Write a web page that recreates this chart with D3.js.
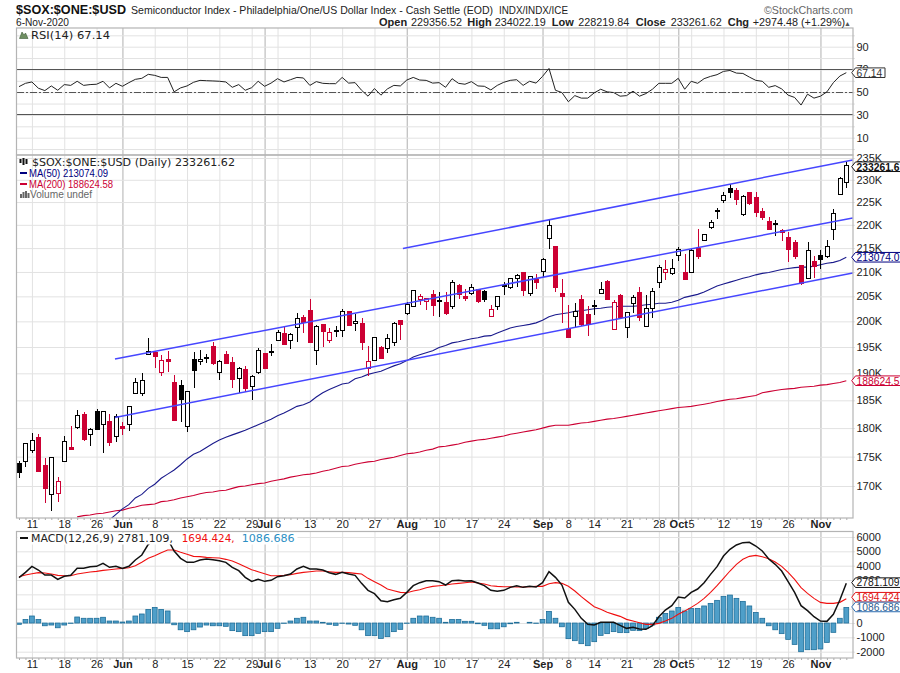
<!DOCTYPE html>
<html><head><meta charset="utf-8">
<script src="https://cdn.jsdelivr.net/npm/d3@7"></script>
<style>
html,body{margin:0;padding:0;background:#fff;overflow:hidden}
text{font-family:"Liberation Sans",Arial,sans-serif;fill:#222}
.leg{font-family:"DejaVu Sans",sans-serif;font-size:9.6px}
.ax text{font-size:11px;fill:#222}
</style></head><body><svg id="c" width="900" height="673"></svg>
<script>
// ---- data (index prices in thousands, one entry per trading day, 7 May - 6 Nov 2020)
const opens=[173.9,174.1,176.1,178.4,173.5,168.6,168.7,174.1,176.6,180.1,
182.5,178.8,183,180.6,181.2,178.5,180.3,180.6,186.3,186.3,
193.6,194,190.1,192.6,188.3,187.7,180.3,192.7,192.2,192.8,
195.1,190.1,193.5,192,189,190.8,187.6,190.1,193.7,194,
196.3,197.7,196.3,198.8,200.7,202.1,194.4,199.3,196.3,198.1,
198.2,202,199.5,199.5,191,192.5,195,194.8,195.8,200.2,
201.5,203,204.3,203.9,205.3,204,203.7,203,207.2,205,
205.5,206.3,206,201,203,207,206.9,208.6,209.9,205.5,
208.4,210,217,215.3,205.5,198.4,200.9,204.3,201.4,202.9,
205.5,208.1,198.4,205.2,198.8,203.5,205.8,199,202.5,207.9,
209.8,209.6,213.4,209.8,209.8,215,216.7,219.4,223,225.4,
228,227.5,222.3,227.1,226,223,220.8,220.1,218.8,217.2,
216.2,211.3,208.7,212.2,213.4,213.2,219,226.7,229.36];
const highs=[174.3,177.3,179.2,178.9,174.8,175,171.5,178.6,180.3,183.3,
182.8,180.1,183.5,183,182.6,182.6,181,184,189.1,190.1,
196.7,194.2,193.4,194.3,189.6,188.8,186.8,194,194.5,193.7,
196,192.6,194.2,193.1,191.1,191.3,189.6,194.8,193.9,195.6,
198.4,198.8,197.7,201.7,201.2,204.4,199.2,199.4,198.6,199,
202.4,202,201.4,200.7,195.2,197,195.2,197.5,199.8,200.2,
203.8,206.2,205.5,204.6,206.3,205.9,205.9,208.4,207.6,206.5,
207.6,206.5,206.3,203.3,205,207.9,208.6,209.6,209.9,209.1,
209.6,213,221,215.4,208.6,203.2,203.6,205.3,203,204.2,
207.9,208.3,204.2,205.4,201.9,205.2,206.8,205.2,206.7,211.5,
212.5,212.8,215.2,213.8,214.8,219,218.1,221,223.6,227.2,
229,228.1,226.6,227.3,227.3,223.6,221.7,221.1,219,218.4,
216.7,211.5,216.4,213.4,214.7,216.8,223.4,230.6,234.02];
const lows=[171.4,173.3,175.6,172.3,167.2,165.9,167.4,174,176.2,179.8,
177.7,176.9,179.7,175.7,176.8,177.6,178.7,179.5,186.3,185.8,
193.5,191,189.5,190.3,181.3,181.1,179.3,187.3,191.5,191.9,
191.6,188.7,191.9,187.3,186.3,186.5,185.1,189.9,190.8,193.2,
196.3,195.3,194.7,195.9,197.8,195.8,191.6,195,195.7,197,
197,199.1,198.1,194.4,189.5,192.4,192.8,193.9,195.1,196.4,
201.2,202.9,203.2,202.2,201,200.9,201.2,202.5,204.5,204,
205.3,203.7,203.8,200.9,202.3,205.3,206.5,206.8,205.1,205.1,
206.5,209,214.8,205.9,199.7,196.7,198.9,199.1,197.2,201.3,
205.4,204.4,198.3,200.6,196.8,201.6,200,199,200.7,206.7,
208.3,209.4,212.3,208.3,209.7,212.8,216.6,219,221.2,224.8,
225.8,224.3,222,224.3,221.7,221.1,218.8,217.6,216.6,212,
212.8,207.4,208.5,208.8,210.6,212.9,216.7,226.7,228.22];
const closes=[172.3,177.2,177.8,172.4,169.5,174.8,170.7,177.6,176.3,182.3,
177.9,179.8,179.8,183,177.4,182,180,183.9,188.3,188.7,
194.2,193.2,192.5,192.3,181.3,185.1,186.6,190.5,192.7,193,
191.9,192.3,191.9,188.8,190.9,187.1,189.4,194.4,191,194.1,
197.8,195.5,197.5,200.5,199.7,195.9,199,198,197.9,198.2,
201.9,199.1,199.9,195.9,192.3,196.9,192.8,196.7,199.6,199.3,
203.4,206.1,204.9,204.5,203.2,204.2,201.5,207.9,205.3,204.6,
206.7,204,204.3,202.3,204.9,207.3,208.6,209.2,206.2,209,
207.9,212.6,219.9,206.9,204.9,196.8,202,199.4,199.3,203.1,
206.3,204.4,203.8,200.7,201.7,204.7,200.7,202.5,206,210.9,
210.5,210.7,214.6,208.4,214.5,213.3,217.9,220.5,223.2,226.5,
227.1,225.6,226.3,224.6,222.6,221.7,219,220.3,218.4,214.6,
213.3,207.6,214.4,211.2,212.6,215.3,222.5,230.2,233.26];
const ma50=Array(14).fill(null).concat([164.4,165.3,166.2,166.9,168,168.6,169.6,170.3,171.3,172,172.7,173.6,174.6,175.4,175.9,176.6,177.3,177.9,178.4,178.8,179.2,179.6,180.1,180.6,181.1,181.6,182.2,182.7,183.3,183.9,
184.2,184.7,185.6,186.4,187,187.5,188,188.2,189,189.3,189.8,190.1,190.4,190.9,191.4,191.8,192.4,193.1,193.5,193.9,
194.3,194.9,195.3,195.8,196,196.3,196.6,196.8,197.1,197.2,197.7,198.2,198.7,199,199.2,199.4,199.7,200.2,200.9,201.3,201.5,201.7,202,202.1,202.3,202.5,202.6,202.8,202.9,203,203,203,203.1,
203.3,203.4,203.6,203.6,203.8,204.2,204.8,205.1,205.4,205.9,206.5,207.1,207.5,207.9,208.3,208.7,209,209.4,209.7,209.9,210.2,210.5,210.7,210.9,211,211,211.2,211.5,211.8,212,212.4,213.07]);
const ma200=Array(9).fill(null).concat([164.9,165.1,165.2,165.4,165.5,165.7,165.9,166,166.3,166.5,166.8,166.9,167,167.4,167.5,167.7,168,168.2,168.4,168.7,168.9,169,169.2,169.3,169.6,169.9,170,170.2,170.4,170.5,170.8,171,171.2,
171.5,171.7,171.9,172,172.2,172.5,172.7,173,173.3,173.4,173.7,173.9,174.1,174.2,174.5,174.7,174.9,175.2,175.5,175.6,175.8,176.1,176.3,176.7,176.8,177,177.2,177.5,177.7,177.9,178,178.2,178.4,178.6,178.9,179.1,179.3,179.5,179.7,180,180.3,180.5,180.5,
180.5,180.7,180.9,181,181.2,181.4,181.6,181.7,181.9,182.1,182.3,182.5,182.7,182.9,183.1,183.3,183.5,183.7,183.8,183.9,184.1,184.3,184.5,184.8,185,185.2,185.3,185.5,185.7,185.9,186.4,186.6,186.8,187,187.1,187.2,187.4,187.5,187.6,187.8,187.9,188.1,188.3,188.62]);
const rsi=[54.9,57.8,59,53.5,51.4,55.5,51.7,56.7,56,59.6,56,56.7,57,59.6,53.8,57.8,55.2,58.4,61.3,62.2,65.7,64.8,63,63,50.3,53.8,55.5,58.7,60.4,60.1,59.9,59.6,59,54.3,56.7,51.7,54,59.6,55.2,58,61.9,59,61,63,62.5,56,59.3,57.8,57.5,57.5,63,58,58.4,51.7,46.5,53.2,47.4,52.9,56,55.5,60.7,63,60.7,60.4,58,58.4,54.3,
61.9,57.8,57,59.3,55.5,55.2,52,56,58.7,60.4,61,56,59.6,58,63.9,70.9,51.7,49.7,41.6,47,44.8,44.8,49.4,52.6,50.3,49.7,46.5,47,50.9,46.5,48.8,52.6,57.8,57.8,57.8,62.2,52.6,59.6,57.8,61.9,63.9,65.4,68.3,69.1,66.8,66.5,63.3,60.4,59.6,54.3,55.8,52.9,47.4,45.4,38.7,48.3,44.8,46.5,50.3,58.4,64.2,67.14];
const macd=[3163,3535,3954,3698,3349,3349,3047,3256,3326,3814,3814,3930,3954,4163,3884,3954,3814,3954,4395,4744,5488,5767,5790,5860,5023,4512,4233,4233,4395,4465,4419,4349,4233,3884,3651,3186,2907,3047,2907,2977,3233,3302,3419,3767,3954,3767,3767,3698,3512,3395,3535,3419,3326,2767,2279,2047,1558,1488,1628,1721,2140,2605,2814,2953,2953,2884,2651,
2953,2977,2930,2953,2791,2605,2279,2209,2279,2488,2605,2488,2558,2512,2814,3581,3186,2651,1442,953,325,-93,-140,47,47,47,-163,-372,-302,-419,-442,-186,442,907,1209,1814,1744,2140,2372,2814,3395,3930,4674,5140,5442,5605,5628,5372,5023,4465,4093,3628,2884,2140,1209,860,442,140,116,605,1605,2781.109];
const signal=[3233,3349,3442,3512,3488,3419,3326,3302,3302,3419,3488,3558,3605,3674,3721,3767,3814,3860,4000,4233,4512,4698,4907,5093,5093,4930,4791,4651,4628,4581,4558,4535,4442,4326,4140,3930,3721,3581,3442,3302,3302,3326,3372,3465,3535,3581,3628,3628,3581,3535,3535,3512,3465,3419,3116,2884,2651,2372,2256,2140,2116,2233,2326,2465,2558,2605,2651,
2721,2767,2814,2860,2791,2721,2605,2558,2535,2535,2512,2512,2535,2558,2558,2744,2814,2767,2558,2233,1837,1488,1140,953,744,605,465,256,140,23,-93,-93,-23,140,325,605,837,1093,1372,1721,2140,2605,3116,3628,4093,4442,4651,4721,4628,4488,4256,3954,3535,3047,2465,2070,1721,1442,1372,1372,1442,1694.424];
const hist=[-90,250,490,250,-190,-140,-330,-140,-20,420,330,330,330,400,140,140,70,140,490,630,950,1090,950,840,-120,-470,-600,-470,-280,-140,-190,-190,-230,-530,-600,-880,-880,-720,-600,-600,-370,-20,140,330,400,140,140,50,-90,-160,-20,-70,-160,-470,-880,-880,-1070,-950,-600,-440,-20,330,490,490,400,330,50,
250,250,120,120,-50,-160,-400,-400,-260,-50,50,0,50,-20,250,810,330,-260,-1090,-1230,-1440,-1580,-1300,-860,-740,-600,-670,-670,-510,-530,-370,-140,400,670,840,1090,840,1020,1020,1190,1370,1580,1860,1950,1720,1510,1190,740,330,-190,-470,-740,-1140,-1490,-2000,-1860,-1860,-1810,-1350,-650,330,1086.686];
const tickIndex=[2,7,12,16,21,26,31,36,38,40,45,50,55,60,65,70,75,81,85,89,94,99,102,104,109,114,119,124];
const tickLabels=["11","18","26","Jun","8","15","22","29","Jul","6","13","20","27","Aug","10","17","24","Sep","8","14","21","28","Oct","5","12","19","26","Nov"];
const priceTicks=[170,175,180,185,190,195,200,205,210,215,220,225,230,235];
const rsiGrid=[0,10,20,30,40,50,60,70,80,90,100];
const rsiLabels=[10,30,50,70,90];
const macdTicks=[-2000,-1000,0,1000,2000,3000,4000,5000,6000];
const macdLabels=[-2000,-1000,0,3000,4000,5000,6000];
// trend channel: [start day, end day, start price, end price]
const trendStart=[14.85,59.4,14.85];
const trendEnd=[129,129,129];
const trendStartPrice=[192.7,214.9,181.9];
const trendEndPrice=[221.5,234.55,209.8];

[opens,highs,lows,closes,ma50,ma200,rsi,macd,signal,hist].forEach((a,k)=>{if(a.length!==129)throw new Error("len "+k+" "+a.length)});

// ---- layout
const L=16.5,R=853,W=R-L;
const rsiP={t:28,b:155},mainP={t:155,b:518},macdP={t:531.5,b:658};
const x=d3.scaleLinear().domain([0,128]).range([19,846.3]);
const yR=d3.scaleLinear().domain([10,90]).range([137.7,46.7]);
const yP=d3.scaleLog().domain([170,235]).range([486,158]);
const yM=d3.scaleLinear().domain([-2000,6000]).range([651.7,537]);
const days=d3.range(129);
const svg=d3.select("#c");
svg.append("rect").attr("width",900).attr("height",673).attr("fill","#fff");
const defs=svg.append("defs");
[["cR",rsiP],["cP",mainP],["cM",macdP]].forEach(([id,p])=>defs.append("clipPath").attr("id",id).append("rect").attr("x",L).attr("y",p.t).attr("width",W).attr("height",p.b-p.t));
const GRID="#e2e2e2",MONTH="#c2c2c2",FRAME="#b4b4b4";

function xGrid(p,pad){
  const g=svg.append("g").attr("class","ax").attr("transform",`translate(0,${p.b})`);
  g.call(d3.axisBottom(x).tickValues(tickIndex).tickSize(-(p.b-p.t)).tickPadding(pad).tickFormat((d,i)=>tickLabels[i]));
  g.select(".domain").remove();
  g.selectAll(".tick line").attr("stroke",d=>/[A-Z]/.test(tickLabels[tickIndex.indexOf(d)])?MONTH:GRID).attr("stroke-width",d=>/[A-Z]/.test(tickLabels[tickIndex.indexOf(d)])?1.3:1);
  g.selectAll(".tick text").attr("font-weight",(d)=>/[A-Z]/.test(tickLabels[tickIndex.indexOf(d)])?"bold":"normal");
  if(p.t>100){
    const m=svg.append("g").attr("transform",`translate(0,${p.b})`);
    m.call(d3.axisBottom(x).tickValues(days).tickSize(2).tickFormat(""));
    m.select(".domain").remove();m.selectAll(".tick line").attr("stroke","#aaa");
  }
  return g;
}
function yGrid(scale,vals,p,fmt,labelled){
  const g=svg.append("g").attr("class","ax").attr("transform",`translate(${R},0)`);
  g.call(d3.axisRight(scale).tickValues(vals).tickSize(0).tickPadding(3.5).tickFormat(fmt));
  g.select(".domain").remove();
  g.selectAll(".tick line").attr("x1",-(W)).attr("x2",2).attr("stroke",GRID);
  if(labelled)g.selectAll(".tick").filter(d=>!labelled.includes(d)).select("text").remove();
}
// ---- RSI pane
xGrid(rsiP,0).selectAll("text").remove();
yGrid(yR,rsiGrid,rsiP,d=>d,rsiLabels);
const rp=svg.append("g").attr("clip-path","url(#cR)");
[70,30].forEach(v=>rp.append("line").attr("x1",L).attr("x2",R).attr("y1",yR(v)).attr("y2",yR(v)).attr("stroke","#555").attr("stroke-width",1).attr("shape-rendering","crispEdges"));
rp.append("line").attr("x1",L).attr("x2",R).attr("y1",yR(50)).attr("y2",yR(50)).attr("stroke","#555").attr("stroke-dasharray","7 2 2 2").attr("shape-rendering","crispEdges");
rp.append("path").attr("d",d3.line().x((d,i)=>x(i)).y(d=>yR(d))(rsi)).attr("fill","none").attr("stroke","#222").attr("stroke-width",1);

// ---- price pane
xGrid(mainP,2);
yGrid(yP,priceTicks,mainP,d=>d+"K");
const pp=svg.append("g").attr("clip-path","url(#cP)");
const lineP=d3.line().defined(d=>d!=null).x((d,i)=>x(i)).y(d=>yP(d));
pp.append("path").attr("d",lineP(ma200)).attr("fill","none").attr("stroke","#cc0033").attr("stroke-width",1.1);
pp.append("path").attr("d",lineP(ma50)).attr("fill","none").attr("stroke","#1a1a8c").attr("stroke-width",1.1);
const cg=pp.append("g").attr("shape-rendering","crispEdges");
days.forEach(i=>{
  const up=closes[i]>opens[i];
  const col=(i>0&&closes[i]<closes[i-1])?"#cc0033":"#000";
  const xc=Math.round(x(i))+.5;
  cg.append("line").attr("x1",xc).attr("x2",xc).attr("y1",yP(highs[i])).attr("y2",yP(lows[i])).attr("stroke",col);
  const t=yP(Math.max(opens[i],closes[i])),b=yP(Math.min(opens[i],closes[i]));
  cg.append("rect").attr("x",xc-2).attr("width",4).attr("y",t).attr("height",Math.max(b-t,1))
    .attr("fill",up&&b-t>1.5?"#fff":col).attr("stroke",col).attr("stroke-width",1);
});
trendStart.forEach((s,k)=>{
  pp.append("line").attr("x1",x(s)).attr("x2",x(trendEnd[k])).attr("y1",yP(trendStartPrice[k])).attr("y2",yP(trendEndPrice[k])).attr("stroke","#4646ff").attr("stroke-width",1.5);
});

// ---- MACD pane
xGrid(macdP,2);
yGrid(yM,macdTicks,macdP,d=>d,macdLabels);
const mp=svg.append("g").attr("clip-path","url(#cM)");
mp.selectAll("rect").data(hist).join("rect")
  .attr("x",(d,i)=>x(i)-2.4).attr("width",4.8)
  .attr("y",d=>Math.min(yM(d),yM(0))).attr("height",d=>Math.abs(yM(d)-yM(0)))
  .attr("fill","#4f9fc9").attr("stroke","#1e6e99").attr("stroke-width",.8);
const lineM=d3.line().x((d,i)=>x(i)).y(d=>yM(d));
mp.append("path").attr("d",lineM(signal)).attr("fill","none").attr("stroke","#f01010").attr("stroke-width",1.1);
mp.append("path").attr("d",lineM(macd)).attr("fill","none").attr("stroke","#111").attr("stroke-width",1.5);
svg.append("rect").attr("x",L+1).attr("y",macdP.t+1).attr("width",280).attr("height",12).attr("fill","#fff");

// ---- frames
[rsiP,mainP,macdP].forEach(p=>svg.append("rect").attr("x",L).attr("y",p.t).attr("width",W).attr("height",p.b-p.t).attr("fill","none").attr("stroke",FRAME).attr("stroke-width",1.2));

// ---- header
function T(x0,y0,s,o={}){
  const e=svg.append("text").attr("x",x0).attr("y",y0).text(s).attr("font-size",o.size||11).attr("font-weight",o.w||"normal").style("fill",o.fill||"#222");
  if(o.cls)e.attr("class",o.cls);
  if(o.len)e.attr("textLength",o.len).attr("lengthAdjust","spacingAndGlyphs");
  return e;
}
T(16,14,"$SOX:$ONE:$USD",{size:13,w:"bold",fill:"#111",len:110});
T(131,13.5,"Semiconductor Index - Philadelphia/One/US Dollar Index - Cash Settle (EOD)",{size:11.2,len:362});
T(499,13.5,"INDX/INDX/ICE",{size:10.5,len:69});
T(764,13.5,"©StockCharts.com",{size:11.8,fill:"#666",len:89});
T(16,26,"6-Nov-2020",{size:11,len:53});
[[379,"Open",411,"229356.52"],[467.3,"High",494.7,"234022.19"],[551.7,"Low",578.3,"228219.84"],[635.7,"Close",670.7,"233261.62"],[727.7,"Chg",752.7,"+2974.48 (+1.29%)"]].forEach(r=>{
  T(r[0],26,r[1],{size:11,w:"bold"});T(r[2],26,r[3],{size:10.8});
});
T(844,25.5,"▲",{size:7,fill:"#555"});

// ---- legends
T(31,39,"RSI(14) 67.14",{cls:"leg",len:79});
svg.append("path").attr("d","M19.5 38.5 L22 32 L24 35 L25.5 33 L28 38.5 Z").attr("fill","#6f8f62").attr("stroke","#3d5c35").attr("stroke-width",.6);
T(32,165.7,"$SOX:$ONE:$USD (Daily) 233261.62",{cls:"leg",len:203});
[[20.5,159,163],[23.5,158,165],[26.5,159,164]].forEach(d=>svg.append("line").attr("x1",d[0]).attr("x2",d[0]).attr("y1",d[1]).attr("y2",d[2]).attr("stroke","#111").attr("stroke-width",2));
svg.append("line").attr("x1",20).attr("x2",27).attr("y1",173).attr("y2",173).attr("stroke","#000080").attr("stroke-width",2);
T(29,176.7,"MA(50) 213074.09",{size:10.5,fill:"#000080",len:79});
svg.append("line").attr("x1",20).attr("x2",27).attr("y1",184).attr("y2",184).attr("stroke","#cc0033").attr("stroke-width",2);
T(29,187.7,"MA(200) 188624.58",{size:10.5,fill:"#cc0033",len:84});
[[20,4],[22.5,6],[25,7],[27.5,5]].forEach(d=>svg.append("rect").attr("x",d[0]).attr("y",198-d[1]).attr("width",2).attr("height",d[1]).attr("fill","#666"));
T(30,197.7,"Volume undef",{size:10.5,fill:"#666",len:62});
svg.append("line").attr("x1",20).attr("x2",28).attr("y1",538).attr("y2",538).attr("stroke","#111").attr("stroke-width",2);
T(31,541.7,"MACD(12,26,9) 2781.109,",{cls:"leg",len:142});
T(181.7,541.7,"1694.424,",{cls:"leg",fill:"#f01010",len:53});
T(241.7,541.7,"1086.686",{cls:"leg",fill:"#2c8fc4",len:53});

// ---- value tags at the right edge
function tag(y0,s,col,opts={}){
  const r=opts.r||906,h=4.8;
  svg.append("path").attr("d",`M851.7 ${y0} L855.5 ${y0-h} L${r} ${y0-h} L${r} ${y0+h} L855.5 ${y0+h} Z`).attr("fill","#fff").attr("stroke",col).attr("stroke-width",1);
  T(856.5,y0+3.8,s,{size:10.3,fill:opts.tc||col,w:opts.w||"normal"});
}
tag(yR(67.14),"67.14","#333",{r:885});
tag(yP(233.26)+1.2,"233261.6","#111",{w:"bold"});
tag(yP(213.07),"213074.0","#000080");
tag(yP(188.62),"188624.5","#cc0033");
tag(yM(2781.109)-.5,"2781.109","#111");
tag(yM(1694.424)-1.5,"1694.424","#e01010");
tag(yM(1086.686)-.5,"1086.686","#2c6cb0",{tc:"#2c5c90"});
</script></body></html>
